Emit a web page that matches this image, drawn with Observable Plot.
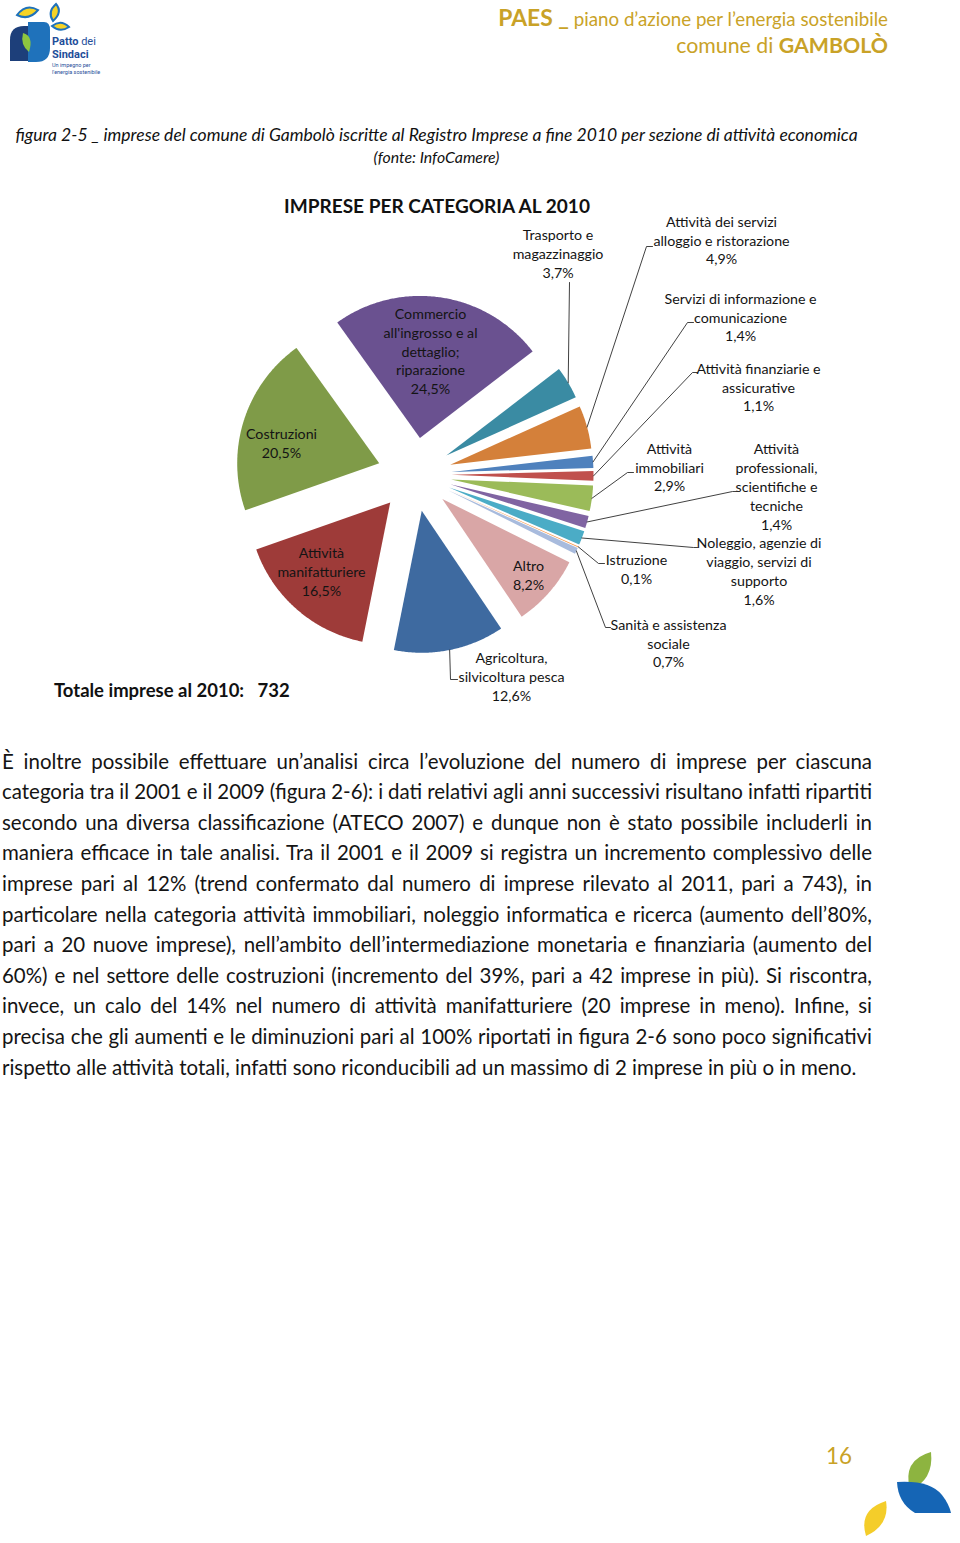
<!DOCTYPE html>
<html lang="it"><head><meta charset="utf-8">
<title>Imprese per categoria al 2010</title>
<script src="https://cdn.jsdelivr.net/npm/d3@7"></script>
<script src="https://cdn.jsdelivr.net/npm/@observablehq/plot@0.6"></script>
<style>
html,body{margin:0;padding:0;background:#fff;}
#page{position:relative;width:960px;height:1543px;overflow:hidden;background:#fff;font-family:Lato,"Open Sans",sans-serif;color:#1a1a1a;}
.t{position:absolute;white-space:pre;}
.gold{color:#C9A227;}
#chart{position:absolute;left:0;top:212px;}
#para{position:absolute;left:2px;top:745.7px;width:870px;color:#141414;}
#para .pl{height:30.6px;line-height:30.6px;white-space:pre;}
</style></head><body>
<div id="page">
  <svg class="t" style="left:0;top:0" width="120" height="85" viewBox="0 0 120 85">
    <path d="M10,40 Q10,26 24,26 L28,26 L28,61 L10,61 Z" fill="#1d3f7a"/>
    <path d="M28,22 L44,22 Q50,22 50,30 L50,48 Q50,62 36,62 L28,62 Z" fill="#1f72bb"/>
    <path d="M23,33 Q34,36 29,52 Q20,45 23,33Z" fill="#8dc63f"/>
    <path d="M17,15 Q26,3 38,10 Q29,21 17,15Z" fill="#f5d327" stroke="#1f72bb" stroke-width="2"/>
    <path d="M56,4 Q63,12 53,21 Q47,12 56,4Z" fill="#f5d327" stroke="#1f72bb" stroke-width="2"/>
    <path d="M52,26 Q61,19 69,27 Q60,33 52,26Z" fill="#f5d327" stroke="#1f72bb" stroke-width="2"/>
    <text x="52" y="45" font-size="11" fill="#1f4e9a" font-family="Roboto, sans-serif"><tspan font-weight="700">Patto</tspan> dei</text>
    <text x="52" y="58" font-size="11" fill="#1f4e9a" font-weight="700" font-family="Roboto, sans-serif">Sindaci</text>
    <text x="52" y="67" font-size="5.5" fill="#1f4e9a" font-family="Roboto, sans-serif">Un impegno per</text>
    <text x="52" y="74" font-size="5.5" fill="#1f4e9a" font-family="Roboto, sans-serif">l'energia sostenibile</text>
  </svg>

  <div id="h1" class="t gold" style="right:72px;top:5px;line-height:24px;font-size:18px;"><b style="font-size:1.22em">PAES _</b> piano d’azione per l’energia sostenibile</div>
  <div id="h2" class="t gold" style="right:72px;top:32px;line-height:26px;font-size:22px;">comune di <b>GAMBOLÒ</b></div>

  <div class="t" style="left:0;width:873px;text-align:center;top:124px;line-height:22px;font-style:italic;color:#111;"><span id="cap1" style="font-size:15px">figura 2-5 _ imprese del comune di Gambolò iscritte al Registro Imprese a fine 2010 per sezione di attività economica</span></div>
  <div class="t" style="left:0;width:873px;text-align:center;top:146px;line-height:22px;font-style:italic;color:#111;"><span id="cap2" style="font-size:15px">(fonte: InfoCamere)</span></div>

  <div class="t" style="left:0;width:874px;text-align:center;top:194px;line-height:24px;color:#111;"><span id="title" style="font-weight:700;font-size:20px">IMPRESE PER CATEGORIA AL 2010</span></div>

  <div id="chart"></div>

  <div class="t" style="left:54px;top:678px;line-height:24px;color:#111;"><span id="totale" style="font-weight:700;font-size:17px"></span></div>

  <div id="para"></div>

  <div class="t gold" style="left:826px;top:1442px;line-height:28px;"><span id="pnum" style="font-size:24px">16</span></div>

  <svg class="t" style="left:860px;top:1445px" width="100" height="98" viewBox="860 1445 100 98">
    <path d="M931,1452 Q934,1480 910,1490 Q902,1460 931,1452Z" fill="#8db440"/>
    <path d="M897,1482 Q930,1480 942,1495 Q949,1504 951,1513 L915,1513 Q898,1503 897,1482Z" fill="#1565b5"/>
    <path d="M886,1501 Q890,1525 866,1536 Q858,1510 886,1501Z" fill="#f4cd2a"/>
  </svg>
</div>

<script>
// ---------- data ----------
const categories = [
  "Commercio all'ingrosso e al dettaglio; riparazione",
  "Trasporto e magazzinaggio",
  "Attività dei servizi alloggio e ristorazione",
  "Servizi di informazione e comunicazione",
  "Attività finanziarie e assicurative",
  "Attività immobiliari",
  "Attività professionali, scientifiche e tecniche",
  "Noleggio, agenzie di viaggio, servizi di supporto",
  "Istruzione",
  "Sanità e assistenza sociale",
  "Altro",
  "Agricoltura, silvicoltura pesca",
  "Attività manifatturiere",
  "Costruzioni"
];
const shares = [24.5, 3.7, 4.9, 1.4, 1.1, 2.9, 1.4, 1.6, 0.1, 0.7, 8.2, 12.6, 16.5, 20.5];
const totalImprese = 732;
const chartTitle = "IMPRESE PER CATEGORIA AL 2010";

const paragraphLines = [
  "È inoltre possibile effettuare un’analisi circa l’evoluzione del numero di imprese per ciascuna",
  "categoria tra il 2001 e il 2009 (figura 2-6): i dati relativi agli anni successivi risultano infatti ripartiti",
  "secondo una diversa classificazione (ATECO 2007) e dunque non è stato possibile includerli in",
  "maniera efficace in tale analisi. Tra il 2001 e il 2009 si registra un incremento complessivo delle",
  "imprese pari al 12% (trend confermato dal numero di imprese rilevato al 2011, pari a 743), in",
  "particolare nella categoria attività immobiliari, noleggio informatica e ricerca (aumento dell’80%,",
  "pari a 20 nuove imprese), nell’ambito dell’intermediazione monetaria e finanziaria (aumento del",
  "60%) e nel settore delle costruzioni (incremento del 39%, pari a 42 imprese in più). Si riscontra,",
  "invece, un calo del 14% nel numero di attività manifatturiere (20 imprese in meno). Infine, si",
  "precisa che gli aumenti e le diminuzioni pari al 100% riportati in figura 2-6 sono poco significativi",
  "rispetto alle attività totali, infatti sono riconducibili ad un massimo di 2 imprese in più o in meno."
];

// ---------- styles / layout (kept apart from the data) ----------
const sliceColors = ["#6A5190", "#3A8BA3", "#D4803A", "#4F81BD", "#C0504D", "#9BBB59", "#8064A2",
                     "#4BACC6", "#F79646", "#A8BBDD", "#D9A6A6", "#3E6AA0", "#9E3B39", "#7F9B48"];
// label block centres and leader elbows, in px relative to the pie centre
const labelLayout = [
  {dx: 16,   dy: -124,  lines: ["Commercio", "all'ingrosso e al", "dettaglio;", "riparazione"]},
  {dx: 143.5,dy: -221.5,lines: ["Trasporto e", "magazzinaggio"], leader: [[155, -192]]},
  {dx: 307,  dy: -235,  lines: ["Attività dei servizi", "alloggio e ristorazione"], leader: [[232, -228], [238, -228]]},
  {dx: 326,  dy: -158,  lines: ["Servizi di informazione e", "comunicazione"], leader: [[273, -152], [279, -152]]},
  {dx: 344,  dy: -88,   lines: ["Attività finanziarie e", "assicurative"], leader: [[278, -102], [283, -102]]},
  {dx: 255,  dy: -8,    lines: ["Attività", "immobiliari"], leader: [[213, -2], [219, -2]]},
  {dx: 362,  dy: 11.5,  lines: ["Attività", "professionali,", "scientifiche e", "tecniche"], leader: [[318, 17], [322, 17]]},
  {dx: 344.5,dy: 96,    lines: ["Noleggio, agenzie di", "viaggio, servizi di", "supporto"], leader: [[279, 73], [283, 73]]},
  {dx: 222,  dy: 94,    lines: ["Istruzione"], leader: [[184, 89], [190, 89]]},
  {dx: 254,  dy: 168,   lines: ["Sanità e assistenza", "sociale"], leader: [[191, 153], [196, 153]]},
  {dx: 114,  dy: 100,   lines: ["Altro"]},
  {dx: 97,   dy: 201.5, lines: ["Agricoltura,", "silvicoltura pesca"], leader: [[36, 205], [43, 205]]},
  {dx: -93,  dy: 96.5,  lines: ["Attività", "manifatturiere"]},
  {dx: -133, dy: -32,   lines: ["Costruzioni"]}
];
const R = 142, EXPLODE = 37, START_ANGLE = -35.6, LABEL_LINE_PX = 18.8;

// ---------- helpers ----------
const ctx = document.createElement("canvas").getContext("2d");
function measure(text, font) { ctx.font = font; return ctx.measureText(text).width; }
function fitFont(el, target) {
  const w = el.getBoundingClientRect().width;
  const fs = parseFloat(getComputedStyle(el).fontSize);
  el.style.fontSize = (fs * target / w) + "px";
}
const fmtPct = v => v.toFixed(1).replace(".", ",") + "%";

// ---------- header texts ----------
document.getElementById("title").textContent = chartTitle;
document.getElementById("totale").textContent = "Totale imprese al 2010:   " + totalImprese;
fitFont(document.getElementById("h1"), 390);
fitFont(document.getElementById("h2"), 212);
fitFont(document.getElementById("cap1"), 843);
fitFont(document.getElementById("cap2"), 126);
fitFont(document.getElementById("title"), 306);
fitFont(document.getElementById("totale"), 236);
fitFont(document.getElementById("pnum"), 26);

// ---------- paragraph ----------
const paraFont = 100 * 855 / measure(paragraphLines[paragraphLines.length - 1], "100px Lato");
const para = document.getElementById("para");
para.style.fontSize = paraFont + "px";
paragraphLines.forEach((t, i) => {
  const div = document.createElement("div"); div.className = "pl";
  const span = document.createElement("span"); span.textContent = t;
  div.appendChild(span); para.appendChild(div);
  if (i < paragraphLines.length - 1) {
    const w = span.getBoundingClientRect().width;
    const n = (t.match(/ /g) || []).length;
    span.style.wordSpacing = ((870 - w) / n) + "px";
  }
});

// ---------- pie geometry from the data ----------
const rad = a => a * Math.PI / 180;
const total = d3.sum(shares);
let acc = 0;
const slices = categories.map((name, i) => {
  const a0 = START_ANGLE + acc / total * 360;
  acc += shares[i];
  const a1 = START_ANGLE + acc / total * 360;
  const mid = (a0 + a1) / 2;
  return {name, i, a0, a1, mid, ox: EXPLODE * Math.sin(rad(mid)), oy: -EXPLODE * Math.cos(rad(mid))};
});
const slicePts = slices.flatMap(s => {
  const n = Math.max(2, Math.ceil((s.a1 - s.a0) / 0.5));
  const pts = [{name: s.name, x: s.ox, y: s.oy}];
  for (let k = 0; k <= n; k++) {
    const a = rad(s.a0 + (s.a1 - s.a0) * k / n);
    pts.push({name: s.name, x: s.ox + R * Math.sin(a), y: s.oy - R * Math.cos(a)});
  }
  pts.push({name: s.name, x: s.ox, y: s.oy});
  return pts;
});
const leaderPts = slices.flatMap((s, i) => {
  const L = labelLayout[i];
  if (!L.leader) return [];
  const a = rad(s.mid);
  return [{name: s.name, x: s.ox + R * Math.sin(a), y: s.oy - R * Math.cos(a)},
          ...L.leader.map(([x, y]) => ({name: s.name, x, y}))];
});
const labelData = slices.map((s, i) => ({
  name: s.name, x: labelLayout[i].dx, y: labelLayout[i].dy,
  text: [...labelLayout[i].lines, fmtPct(shares[i])].join("\n")
}));
const labelFont = (100 * 91 / measure("magazzinaggio", "100px Lato") + 100 * 152 / measure("Servizi di informazione e", "100px Lato")) / 2;

const chart = Plot.plot({
  width: 960, height: 500, margin: 0,
  x: {domain: [-414, 546], range: [0, 960], axis: null},
  y: {domain: [-262, 238], range: [0, 500], axis: null},
  color: {domain: categories, range: sliceColors},
  style: {fontFamily: "Lato, sans-serif", background: "transparent", overflow: "visible", color: "#1f1f1f"},
  marks: [
    Plot.line(slicePts, {x: "x", y: "y", z: "name", fill: "name", stroke: "none", curve: "linear"}),
    Plot.line(leaderPts, {x: "x", y: "y", z: "name", stroke: "#2b2b2b", strokeWidth: 0.9}),
    Plot.text(labelData, {x: "x", y: "y", text: "text", fontSize: labelFont, lineHeight: LABEL_LINE_PX / labelFont, fill: "#141414"})
  ]
});
document.getElementById("chart").appendChild(chart);
</script>
</body></html>
